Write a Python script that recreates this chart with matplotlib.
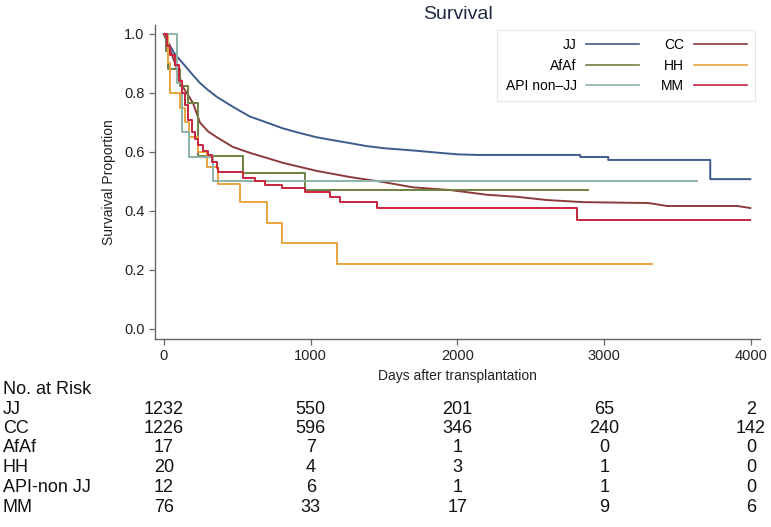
import matplotlib
matplotlib.use('Agg')
import matplotlib.pyplot as plt
import matplotlib.transforms as mtransforms

plt.rcParams.update({'font.family': ['Liberation Sans', 'DejaVu Sans'], 'font.size': 10})

# colours
C_JJ = '#3f5b8c'; C_CC = '#8c3b3b'; C_AF = '#6f8040'; C_HH = '#e9a53f'; C_API = '#8db3a6'; C_MM = '#c8243e'

# Kaplan-Meier estimates (days, survival)
jj_days = [0, 30, 70, 130, 190, 245, 300, 360, 470, 586, 700, 811, 920, 1040, 1150, 1268, 1380, 1495,
           1700, 1881, 2000, 2134, 2836, 2836, 3027, 3027, 3722, 3722, 3995]
jj_surv = [1.0, 0.97, 0.935, 0.90, 0.865, 0.834, 0.81, 0.787, 0.753, 0.72, 0.70, 0.68, 0.665, 0.65, 0.64,
           0.63, 0.62, 0.613, 0.605, 0.597, 0.592, 0.59, 0.59, 0.583, 0.583, 0.573, 0.573, 0.508, 0.508]
cc_days = [0, 40, 90, 130, 198, 245, 300, 360, 470, 586, 700, 811, 1040, 1268, 1495, 1700, 1950, 2200,
           2406, 2611, 2856, 3300, 3428, 3906, 3995]
cc_surv = [1.0, 0.95, 0.88, 0.82, 0.766, 0.70, 0.67, 0.65, 0.617, 0.597, 0.58, 0.563, 0.536, 0.515, 0.498,
           0.48, 0.471, 0.455, 0.448, 0.437, 0.43, 0.427, 0.417, 0.417, 0.41]
af_days = [0, 15, 25, 110, 164, 232, 540, 960, 2890]
af_surv = [1.0, 0.941, 0.882, 0.824, 0.765, 0.588, 0.529, 0.47, 0.47]
hh_days = [0, 25, 41, 109, 140, 170, 230, 290, 368, 518, 702, 804, 1179, 3327]
hh_surv = [1.0, 0.90, 0.80, 0.75, 0.70, 0.65, 0.60, 0.55, 0.49, 0.43, 0.36, 0.29, 0.22, 0.22]
api_days = [0, 90, 123, 170, 333, 3633]
api_surv = [1.0, 0.833, 0.667, 0.583, 0.5, 0.5]
mm_days = [0, 20, 40, 75, 100, 120, 143, 165, 190, 210, 232, 265, 300, 330, 361, 368, 539, 620, 689, 804,
           961, 1130, 1200, 1452, 2815, 3995]
mm_surv = [1.0, 0.96, 0.93, 0.895, 0.84, 0.80, 0.76, 0.71, 0.668, 0.645, 0.624, 0.605, 0.59, 0.565, 0.546,
           0.532, 0.512, 0.50, 0.488, 0.478, 0.464, 0.447, 0.43, 0.41, 0.37, 0.37]

# number at risk table
risk_times = [0, 1000, 2000, 3000, 4000]
risk_groups = ['JJ', 'CC', 'AfAf', 'HH', 'API-non JJ', 'MM']
risk_counts = [[1232, 550, 201, 65, 2],
               [1226, 596, 346, 240, 142],
               [17, 7, 1, 0, 0],
               [20, 4, 3, 1, 0],
               [12, 6, 1, 1, 0],
               [76, 33, 17, 9, 6]]

W, H = 771, 527
fig = plt.figure(figsize=(W/100, H/100), dpi=100)
ax = fig.add_axes([155/W, 1-339/H, 605/W, 314/H])

lw = 1.4
h_jj, = ax.plot(jj_days, jj_surv, color=C_JJ, lw=lw, label='JJ')
h_cc, = ax.plot(cc_days, cc_surv, color=C_CC, lw=lw, label='CC')
h_af, = ax.step(af_days, af_surv, where='post', color=C_AF, lw=lw, label='AfAf')
h_hh, = ax.step(hh_days, hh_surv, where='post', color=C_HH, lw=lw, label='HH')
h_api, = ax.step(api_days, api_surv, where='post', color=C_API, lw=lw, label='API non\u2013JJ')
h_mm, = ax.step(mm_days, mm_surv, where='post', color=C_MM, lw=lw, label='MM')

ax.set_xlim(-61, 4061)
ax.set_ylim(-0.034, 1.0305)
ax.set_xticks(risk_times)
ax.set_yticks([0, 0.2, 0.4, 0.6, 0.8, 1.0])
ax.set_yticklabels(['0.0', '0.2', '0.4', '0.6', '0.8', '1.0'])
ax.tick_params(labelsize=10.5, colors='#222222', length=4, width=0.9)
ax.tick_params(axis='both', color='#666666')
for s in ['top', 'right']:
    ax.spines[s].set_visible(False)
for s in ['left', 'bottom']:
    ax.spines[s].set_color('#666666'); ax.spines[s].set_linewidth(1.0)
ax.set_ylabel('Survaival Proportion', fontsize=10, color='#222222', labelpad=6)
ax.set_xlabel('Days after transplantation', fontsize=10, color='#222222', labelpad=4)
ax.set_title('Survival', fontsize=14, color='#1e2a44', pad=4)

leg = ax.legend([h_jj, h_af, h_api, h_cc, h_hh, h_mm],
                ['JJ', 'AfAf', 'API non\u2013JJ', 'CC', 'HH', 'MM'],
                ncol=2, markerfirst=False, loc='upper right', bbox_to_anchor=(0.992, 0.984),
                borderaxespad=0, fontsize=10, handlelength=3.8, handletextpad=0.7, columnspacing=1.6,
                labelspacing=0.45, borderpad=0.6, fancybox=False, framealpha=1)
leg.get_frame().set_edgecolor('#e6e6e6'); leg.get_frame().set_linewidth(0.8)
for l in leg.get_lines():
    l.set_linewidth(1.2)

# risk table
fig.text(3/W, 1-390/H, 'No. at Risk', fontsize=13, va='center', ha='left', color='#111111')
trans = mtransforms.blended_transform_factory(ax.transData, fig.transFigure)
row_y = [410, 428.5, 448, 468, 487, 507]
for g, counts, py in zip(risk_groups, risk_counts, row_y):
    fig.text(3/W, 1-py/H, g, fontsize=13, va='center', ha='left', color='#111111')
    for t, n in zip(risk_times, counts):
        ax.text(t, 1-py/H, str(n), transform=trans, fontsize=13, va='center', ha='center',
                color='#111111', clip_on=False)

fig.savefig('out.png', dpi=100)
